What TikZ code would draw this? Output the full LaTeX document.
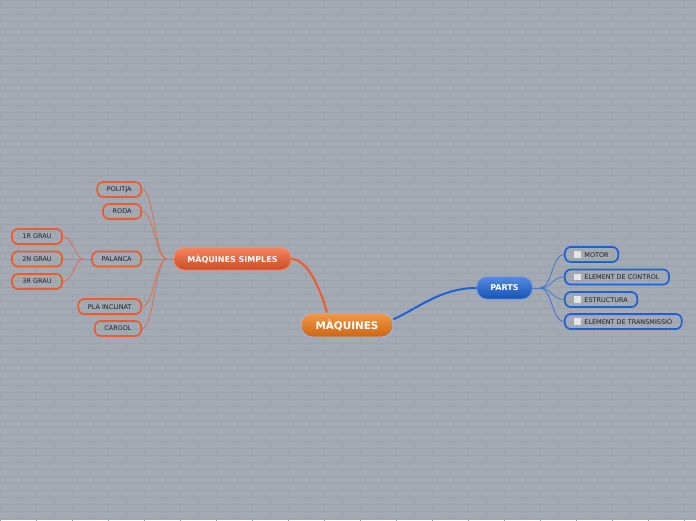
\documentclass[tikz,border=0pt]{standalone}
\usepackage{fontspec}
\setmainfont{DejaVu Sans}
\usetikzlibrary{arrows.meta, positioning, calc}

\definecolor{wallgray}{HTML}{A4AAB4}
\definecolor{wallline}{HTML}{9BA2AC}
\definecolor{simplered}{HTML}{F05A28}
\definecolor{partsblue}{HTML}{1A62D6}
\definecolor{roottop}{HTML}{F09A48}
\definecolor{rootbot}{HTML}{CC6612}
\definecolor{inkdark}{HTML}{202020}
\definecolor{chkwhite}{HTML}{E4E4E4}

\newcommand{\chkbox}{\raisebox{-0.5pt}{\color{chkwhite}\rule{1.7mm}{1.7mm}}\hspace{0.8mm}}

\begin{document}
\begin{tikzpicture}[
  x=0.025cm, y=-0.025cm,
  font=\fontsize{4.6}{5.5}\selectfont,
  root/.style={rectangle, rounded corners=2.8mm, draw=#1, line width=0.7pt,
               top color=roottop, bottom color=rootbot,
               minimum width=23mm, minimum height=6mm, inner sep=0pt,
               font=\fontsize{7.4}{9}\selectfont\bfseries, text=white},
  topic/.style={rectangle, rounded corners=2.6mm, draw=#1!70!white, line width=0.6pt,
               top color=#1!75!white, bottom color=#1!85!black,
               minimum height=5.5mm, inner xsep=3.4mm, inner ysep=0pt,
               font=\fontsize{5.7}{7}\selectfont\bfseries, text=white},
  leaf/.style={rectangle, rounded corners=1.5mm, draw=#1, line width=1.2pt,
               minimum height=3.75mm, inner xsep=2.4mm, inner ysep=0pt, text=inkdark},
  grau/.style={leaf=#1, minimum width=12.5mm},
  trunk/.style={draw=#1, line width=1.4pt},
  twig/.style={draw=#1!70!wallgray, line width=0.6pt},
  brick/.style={draw=wallline, line width=0.35pt},
]

\useasboundingbox (0,0) rectangle (696,520);

% ---- wall ----
\begin{scope}
  \clip (0,0) rectangle (696,520);
  \fill[wallgray] (0,0) rectangle (696,520);
  \foreach \r in {0,...,74} {
    \draw[brick] (0,\r*7) -- (696,\r*7);
    \pgfmathsetmacro\off{mod(\r,2)*18}
    \foreach \c in {0,...,20}
      \draw[brick] ({\c*36+\off},\r*7) -- ++(0,7);
  }
\end{scope}

% ---- central topic ----
\node[root=partsblue!45!white] (maq) at (347,325) {MÀQUINES};

% ---- main branches ----
\node[topic=simplered] (sim) at (232.5,259) {MÀQUINES SIMPLES};
\node[topic=partsblue] (parts) at (504.5,288) {PARTS};

\draw[trunk=simplered] (sim.east) .. controls +(16,0) and +(-6,-22) .. (maq.148);
\draw[trunk=partsblue] (maq.7) .. controls +(26,-12) and +(-35,0) .. (parts.west);

% ---- left: simple machines ----
\node[leaf=simplered, anchor=east] (pol) at (142,189.5) {POLITJA};
\node[leaf=simplered, anchor=east] (rod) at (142,211.5) {RODA};
\node[leaf=simplered, anchor=east] (pal) at (142,259) {PALANCA};
\node[leaf=simplered, anchor=east] (pla) at (142,306.5) {PLÀ INCLINAT};
\node[leaf=simplered, anchor=east] (car) at (142,328.5) {CARGOL};

\coordinate (jl) at (167,259);
\draw[twig=simplered] (sim.west) -- (jl);
\foreach \c in {pol,rod,pal,pla,car}
  \draw[twig=simplered] (jl) .. controls +(-12,0) and +(12,0) .. (\c.east);

% ---- lever classes ----
\node[grau=simplered] (g1) at (37,236.5) {1R GRAU};
\node[grau=simplered] (g2) at (37,259) {2N GRAU};
\node[grau=simplered] (g3) at (37,281.5) {3R GRAU};

\coordinate (jg) at (83,259);
\draw[twig=simplered] (pal.west) -- (jg);
\foreach \c in {g1,g2,g3}
  \draw[twig=simplered] (jg) .. controls +(-8,0) and +(10,0) .. (\c.east);

% ---- right: parts ----
\node[leaf=partsblue, anchor=west] (mot) at (564,254.5) {\chkbox MOTOR};
\node[leaf=partsblue, anchor=west] (ctl) at (564,277) {\chkbox ELEMENT DE CONTROL};
\node[leaf=partsblue, anchor=west] (est) at (564,299.5) {\chkbox ESTRUCTURA};
\node[leaf=partsblue, anchor=west] (tra) at (564,321.5) {\chkbox ELEMENT DE TRANSMISSIÓ};

\coordinate (jr) at (540,288);
\draw[twig=partsblue] (parts.east) -- (jr);
\foreach \c in {mot,ctl,est,tra}
  \draw[twig=partsblue] (jr) .. controls +(12,0) and +(-12,0) .. (\c.west);

\end{tikzpicture}
\end{document}
